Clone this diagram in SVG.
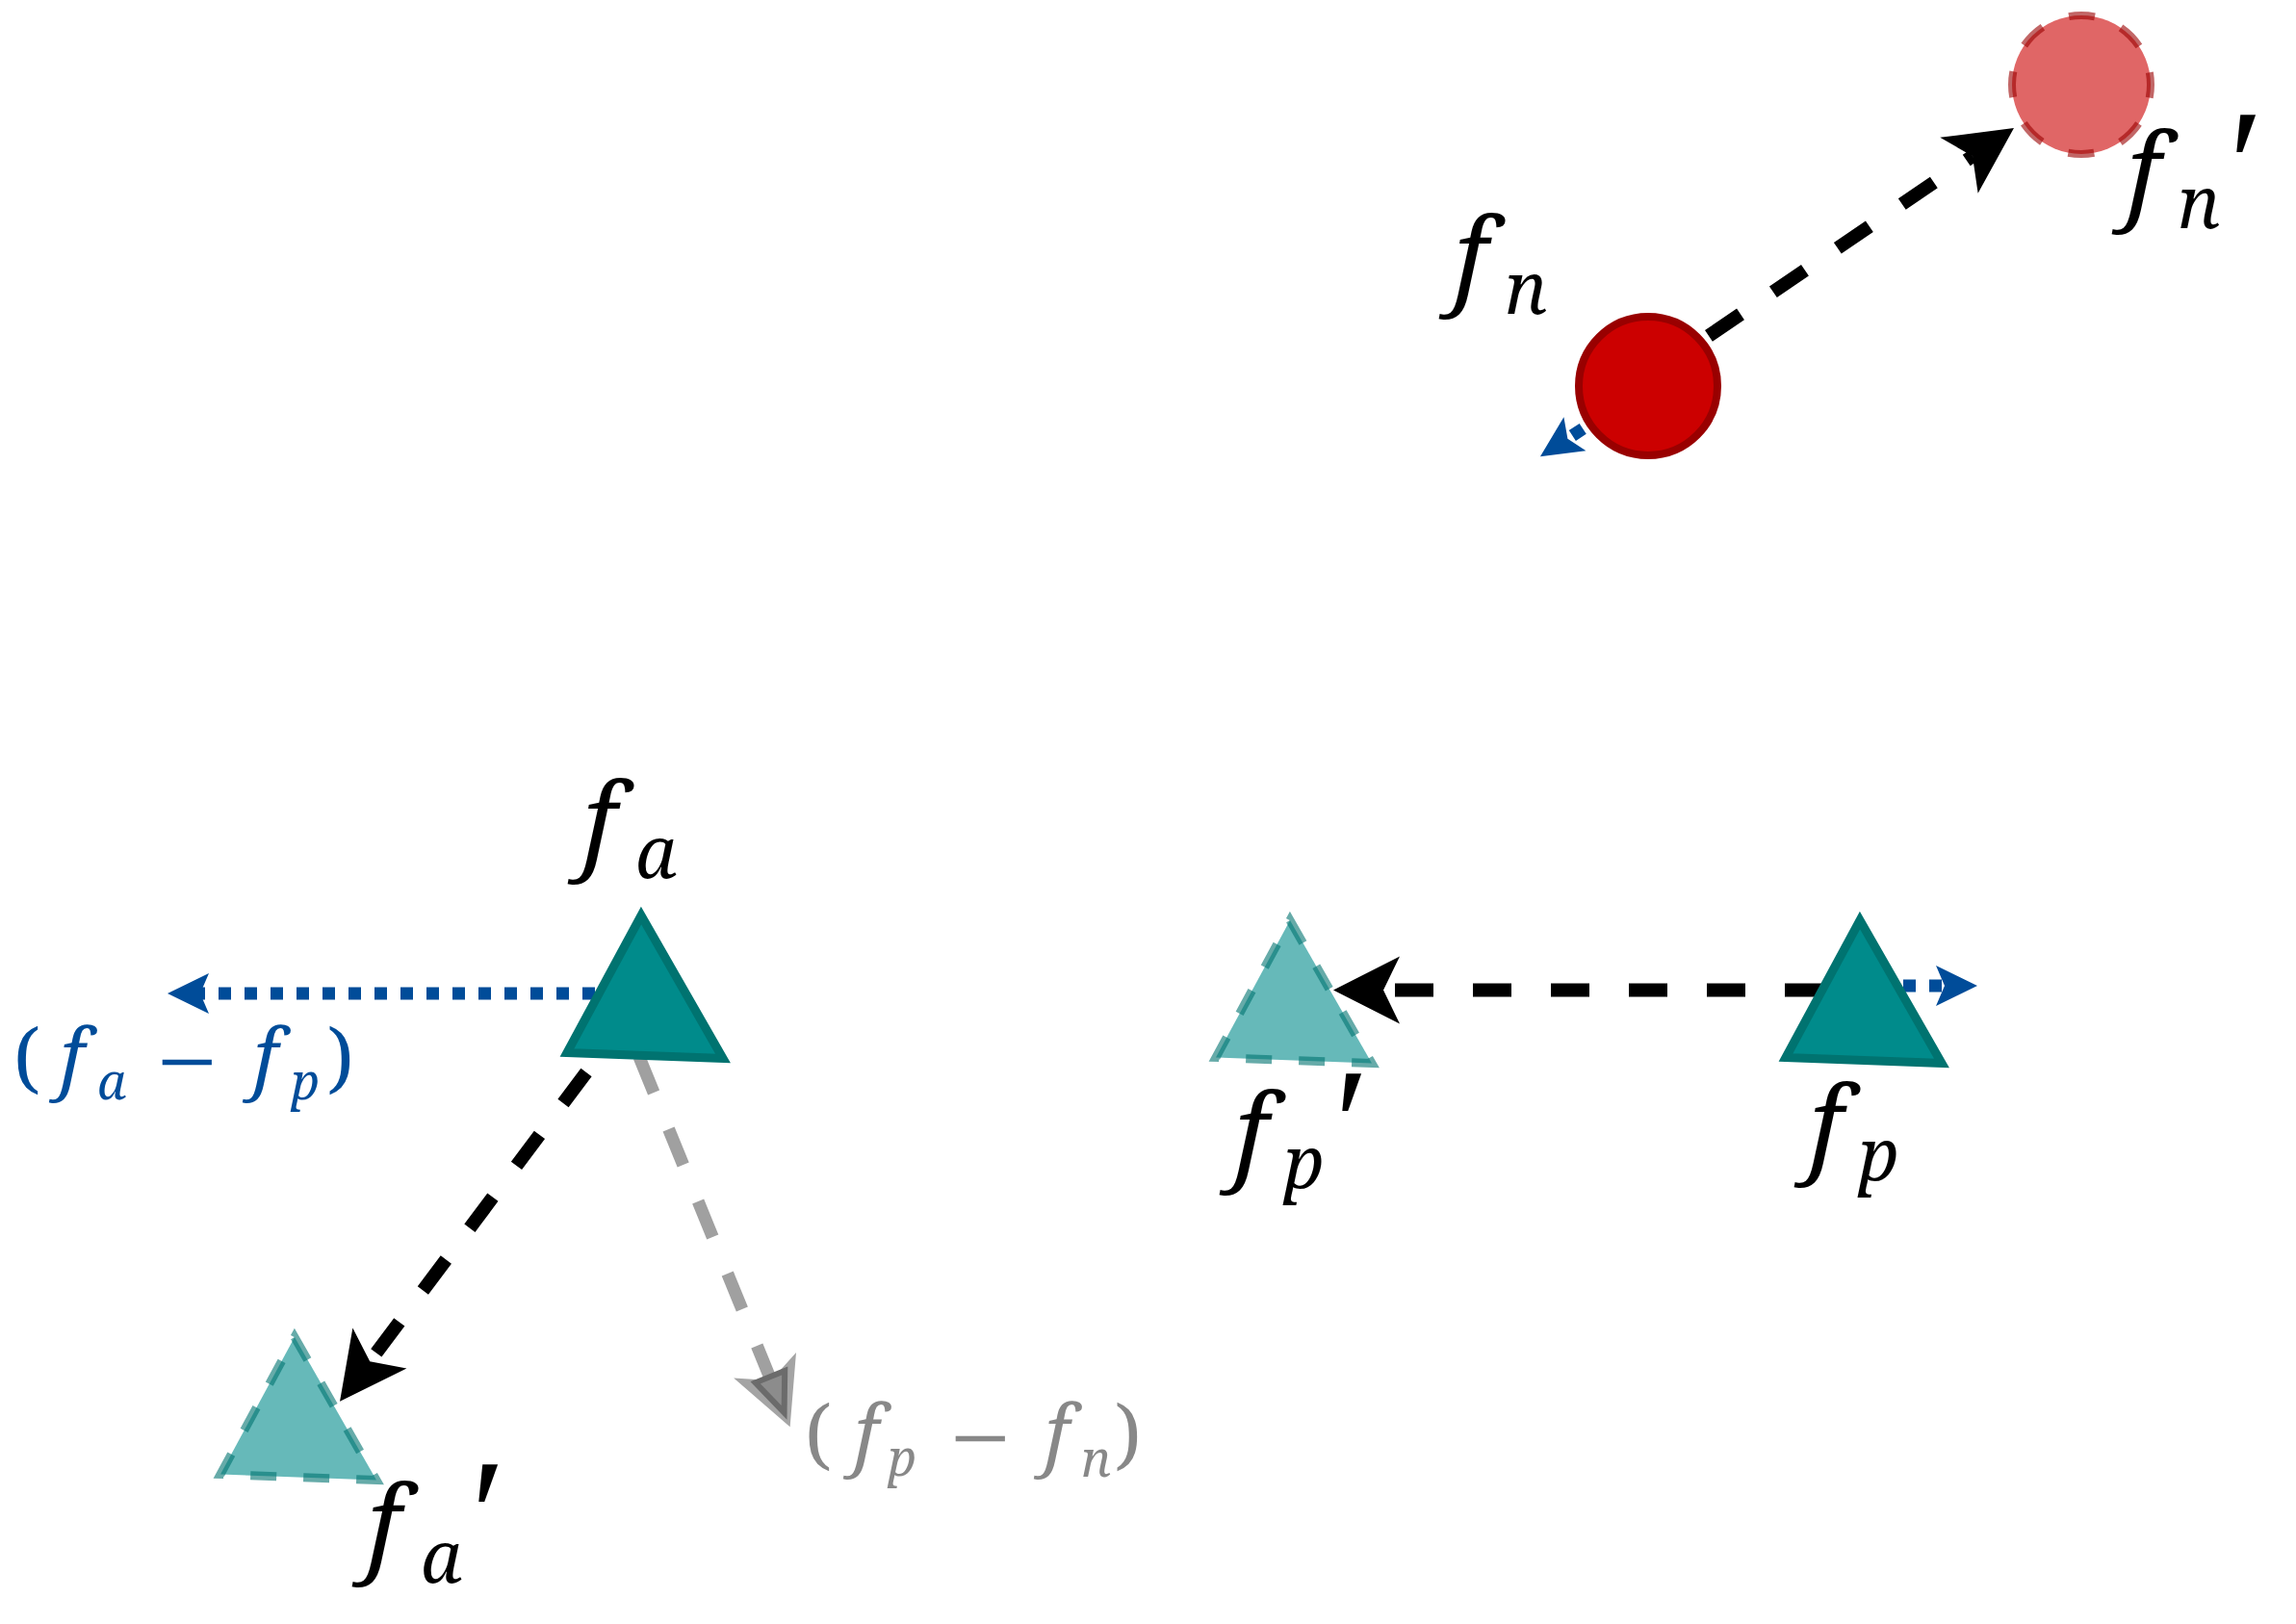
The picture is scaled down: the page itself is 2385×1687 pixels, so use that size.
<svg xmlns="http://www.w3.org/2000/svg" width="2385" height="1687" viewBox="0 0 2385 1687">
<defs>
<style>
.lbl{font-family:"Noto Serif","DejaVu Serif",serif;font-style:italic;}
.main{font-size:110px;}
.sub{font-size:74px;}
.m2{font-size:80px;}
.s2{font-size:52px;}
.par{font-family:"Noto Serif","DejaVu Serif",serif;font-style:normal;font-size:80px;}
.mns{font-family:"Liberation Serif","DejaVu Serif",serif;font-style:normal;font-size:110px;}
.prm{font-family:"Liberation Serif","DejaVu Serif",serif;font-style:italic;font-size:165px;}
.blueT{fill:#004c99;}
.grayT{fill:#888888;}
.dashB{fill:none;stroke:#000;stroke-width:14;stroke-dasharray:40 41;}
.dotB{fill:none;stroke:#004c99;stroke-width:13;stroke-dasharray:13 14;}
.dashG{fill:none;stroke:#808080;stroke-opacity:0.75;stroke-width:13;stroke-dasharray:40 41;}
.tri{fill:#008b8b;stroke:#007370;stroke-width:9;stroke-linejoin:miter;}
.triG{fill:#008b8b;fill-opacity:0.6;stroke:#007370;stroke-opacity:0.6;stroke-width:9;stroke-dasharray:27 28;stroke-linejoin:miter;}
.circ{fill:#cc0000;stroke:#990000;stroke-width:8;}
.circG{fill:#cc0000;fill-opacity:0.6;stroke:#990000;stroke-opacity:0.6;stroke-width:8;stroke-dasharray:27 29.55;stroke-dashoffset:13.5;}
</style>
<path id="triShape" d="M666,951 L751,1099.5 L589,1093.5 Z"/>
<marker id="ahB" markerUnits="userSpaceOnUse" orient="auto" refX="0" refY="0" markerWidth="140" markerHeight="140" viewBox="-70 -70 140 140" overflow="visible">
<path d="M52,0 L-17,-35 L0,0 L-17,35 Z" fill="#000"/>
</marker>
<marker id="ahBlue" markerUnits="userSpaceOnUse" orient="auto" refX="0" refY="0" markerWidth="100" markerHeight="100" viewBox="-50 -50 100 100" overflow="visible">
<path d="M34,0 L-9,-21 L0,0 L-9,21 Z" fill="#004c99"/>
</marker>
<marker id="ahG" markerUnits="userSpaceOnUse" orient="auto" refX="0" refY="0" markerWidth="140" markerHeight="140" viewBox="-70 -70 140 140" overflow="visible">
<path d="M52,0 L-17,-35 L0,0 L-17,35 Z" fill="#a4a4a4"/>
<path d="M36,0 L-4,-17 L-4,16 Z" fill="#8c8c8c" stroke="#6b6b6b" stroke-width="6" stroke-linejoin="miter"/>
</marker>
</defs>
<rect width="2385" height="1687" fill="#ffffff"/>

<g id="connectors">
<path class="dashB" d="M1708,394.5 L2049,162.2" marker-end="url(#ahB)"/>
<path class="dotB" d="M1712,401 L1628.4,455.7" marker-end="url(#ahBlue)"/>
<path class="dotB" d="M672,1032 L208,1032" marker-end="url(#ahBlue)"/>
<path class="dotB" d="M1923,1024 L2020,1024" marker-end="url(#ahBlue)"/>
<path class="dashB" d="M1894,1028.5 L1437,1028.5" marker-end="url(#ahB)"/>
<path class="dashB" d="M609,1114 L384.2,1414.2" marker-end="url(#ahB)"/>
<path class="dashG" d="M664,1098 L801,1434" marker-end="url(#ahG)"/>
<text class="lbl blueT"><tspan class="par" x="14" y="1127">(</tspan><tspan class="m2" x="62" y="1127">f</tspan><tspan class="s2" x="101" y="1142">a</tspan><tspan class="mns" x="163" y="1140">−</tspan><tspan class="m2" x="263" y="1127">f</tspan><tspan class="s2" x="302" y="1142">p</tspan><tspan class="par" x="340" y="1127">)</tspan></text>
<text class="lbl grayT"><tspan class="par" x="836" y="1518">(</tspan><tspan class="m2" x="887" y="1518">f</tspan><tspan class="s2" x="922" y="1533">p</tspan><tspan class="mns" x="987" y="1531">−</tspan><tspan class="m2" x="1085" y="1518">f</tspan><tspan class="s2" x="1123" y="1534">n</tspan><tspan class="par" x="1158" y="1518">)</tspan></text>
</g>

<g id="fn">
<circle class="circ" cx="1712" cy="401" r="72"/>
<text class="lbl"><tspan class="main" x="1510" y="306">f</tspan><tspan class="sub" x="1563" y="326">n</tspan></text>
</g>

<g id="fn-prime">
<circle class="circG" cx="2162" cy="88" r="72"/>
<text class="lbl"><tspan class="main" x="2209" y="218">f</tspan><tspan class="sub" x="2262" y="237">n</tspan><tspan class="prm" x="2305" y="228">′</tspan></text>
</g>

<g id="fa">
<use href="#triShape" class="tri"/>
<text class="lbl"><tspan class="main" x="605" y="893">f</tspan><tspan class="sub" x="660" y="912">a</tspan></text>
</g>

<g id="fa-prime">
<use href="#triShape" class="triG" transform="translate(-360,438)"/>
<text class="lbl"><tspan class="main" x="381" y="1623">f</tspan><tspan class="sub" x="437" y="1644">a</tspan><tspan class="prm" x="479" y="1630">′</tspan></text>
</g>

<g id="fp-prime">
<use href="#triShape" class="triG" transform="translate(674,5)"/>
<text class="lbl"><tspan class="main" x="1282" y="1216">f</tspan><tspan class="sub" x="1333" y="1234">p</tspan><tspan class="prm" x="1376" y="1224">′</tspan></text>
</g>

<g id="fp">
<use href="#triShape" class="tri" transform="translate(1266,5)"/>
<text class="lbl"><tspan class="main" x="1879" y="1208">f</tspan><tspan class="sub" x="1930" y="1226">p</tspan></text>
</g>
</svg>
